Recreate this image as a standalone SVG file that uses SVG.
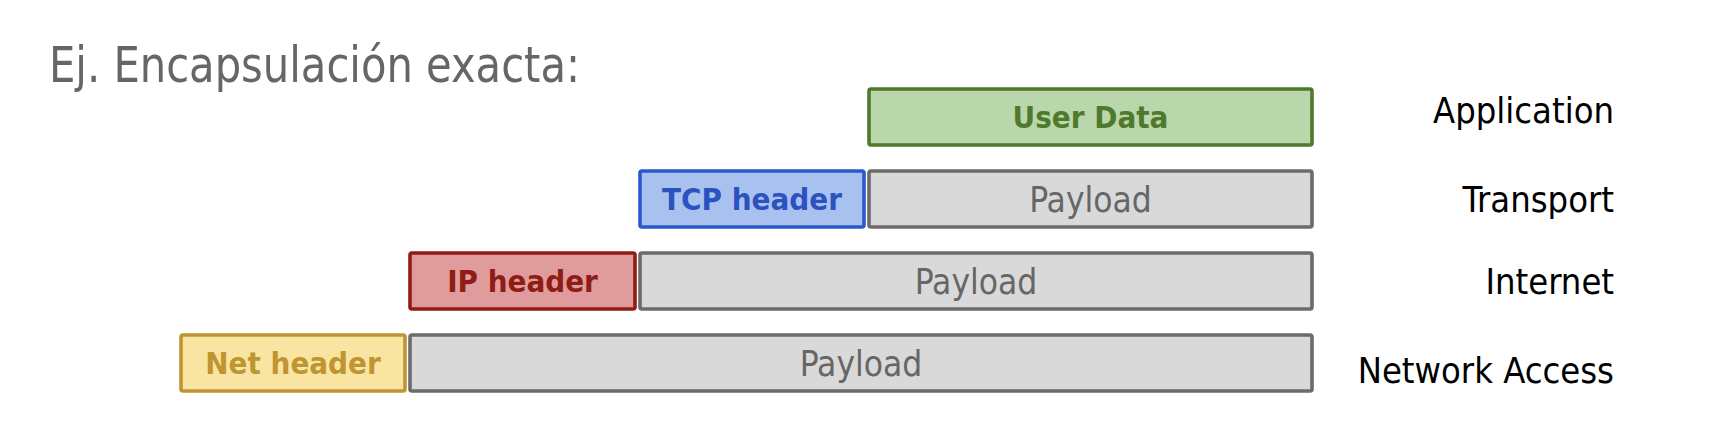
<svg xmlns="http://www.w3.org/2000/svg" width="1724" height="438" viewBox="0 0 1724 438">
<style>
text{font-family:"DejaVu Sans Condensed","DejaVu Sans",sans-serif}
.box{stroke-width:3.6}
.bt{font-weight:bold;font-size:31px;text-anchor:middle}
.pt{font-size:35px;text-anchor:middle;fill:#666666}
.pay{fill:#d9d9d9;stroke:#6b6b6b}
.lbl{font-size:36px;text-anchor:end;fill:#000}
</style>
<rect width="1724" height="438" fill="#ffffff"/>
<text id="title" x="49" y="82" font-size="50" fill="#666666" textLength="531" lengthAdjust="spacingAndGlyphs">Ej. Encapsulación exacta:</text>
<g id="app-userdata">
<rect class="box" x="869" y="89" width="443" height="56" rx="2" fill="#bad7ab" stroke="#4f7a2d"/>
<text class="bt" x="1090.5" y="128" fill="#4f7a2d">User Data</text>
</g>
<g id="tcp-header">
<rect class="box" x="640" y="171" width="224" height="56" rx="2" fill="#a9c1ef" stroke="#2b59cc"/>
<text class="bt" x="752" y="210" fill="#2b52bf">TCP header</text>
</g>
<g id="tcp-payload">
<rect class="box pay" x="869" y="171" width="443" height="56" rx="2"/>
<text class="pt" x="1090.5" y="212">Payload</text>
</g>
<g id="ip-header">
<rect class="box" x="410" y="253" width="225" height="56" rx="2" fill="#e09c9c" stroke="#8f1d15"/>
<text class="bt" x="522.5" y="292" fill="#8f1d15">IP header</text>
</g>
<g id="ip-payload">
<rect class="box pay" x="640" y="253" width="672" height="56" rx="2"/>
<text class="pt" x="976" y="294">Payload</text>
</g>
<g id="net-header">
<rect class="box" x="181" y="335" width="224" height="56" rx="2" fill="#fae4a1" stroke="#bf9532"/>
<text class="bt" x="293" y="374" fill="#bf9532">Net header</text>
</g>
<g id="net-payload">
<rect class="box pay" x="410" y="335" width="902" height="56" rx="2"/>
<text class="pt" x="861" y="376">Payload</text>
</g>
<g id="layers">
<text class="lbl" x="1614" y="123">Application</text>
<text class="lbl" x="1614" y="212">Transport</text>
<text class="lbl" x="1614" y="294">Internet</text>
<text class="lbl" x="1614" y="383">Network Access</text>
</g>
<g id="connectors"></g>
</svg>
